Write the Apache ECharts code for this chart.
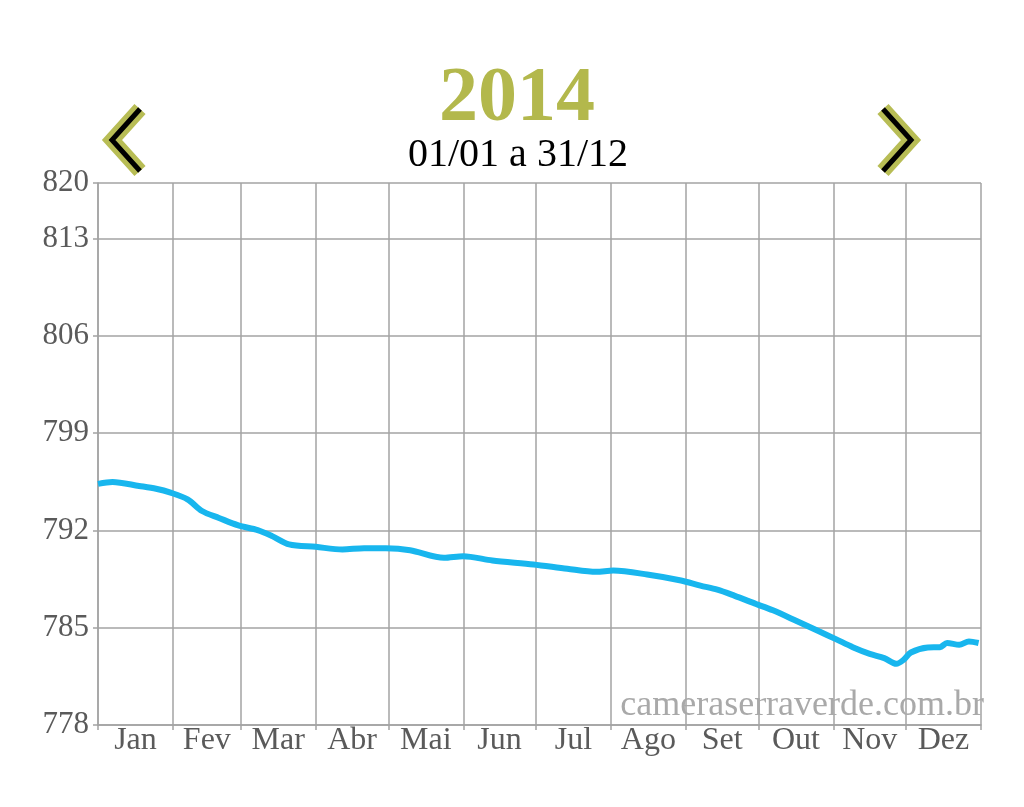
<!DOCTYPE html>
<html><head><meta charset="utf-8">
<script src="https://cdn.jsdelivr.net/npm/echarts@6/dist/echarts.min.js"></script>
<style>html,body{margin:0;padding:0;background:#fff}#c{width:1024px;height:807px}</style>
</head><body><div id="c"></div>
<script>
const months = ['Jan','Fev','Mar','Abr','Mai','Jun','Jul','Ago','Set','Out','Nov','Dez'];
const monthStarts = [0,31,59,90,120,151,181,212,243,273,304,334,365];
const yTicks = [778,785,792,799,806,813,817];
const days = [0,6,17,24,30,37,43,50,58,66,72,79,90,101,110,119,129,143,151,163,180,194,206,213,227,241,249,256,263,272,279,289,298,305,312,319,325,330,333,336,343,348,351,356,360,364];
const levels = [795.35,795.49,795.2,795.0,794.72,794.24,793.4,792.9,792.36,792.02,791.59,791.0,790.82,790.63,790.72,790.72,790.58,790.03,790.15,789.84,789.55,789.24,789.02,789.11,788.83,788.4,788.03,787.74,787.31,786.71,786.25,785.46,784.74,784.18,783.6,783.12,782.81,782.4,782.69,783.22,783.58,783.6,783.9,783.77,784.01,783.9];

const serif = "'Liberation Serif','Times New Roman',serif";
const gridColor = '#a3a3a3';
const mids = months.map((m,i)=>(monthStarts[i]+monthStarts[i+1])/2);

const chart = echarts.init(document.getElementById('c'));
chart.setOption({
  animation:false,
  backgroundColor:'#fff',
  title:[
    {text:'2014',left:512,textAlign:'center',top:56,textStyle:{fontFamily:serif,fontSize:78,fontWeight:'bold',color:'#b3b84c'}},
    {text:'01/01 a 31/12',left:513,textAlign:'center',top:130,textStyle:{fontFamily:serif,fontSize:40,fontWeight:'normal',color:'#000'}}
  ],
  grid:{left:98,right:43,top:183,bottom:82,containLabel:false},
  xAxis:{
    type:'value',min:0,max:365,
    axisLine:{show:true,lineStyle:{color:gridColor,width:1.5}},
    axisTick:{show:true,length:5,customValues:monthStarts,lineStyle:{color:gridColor,width:1.5}},
    splitLine:{show:true,lineStyle:{color:gridColor,width:1.5}},
    axisLabel:{customValues:mids,margin:0,fontFamily:serif,fontSize:32,color:'#5a5a5a',
      formatter:(v)=>{const i=mids.indexOf(v);return i>=0?months[i]:'';}}
  },
  yAxis:{
    type:'value',min:778,max:817,interval:7,
    axisLine:{show:true,lineStyle:{color:gridColor,width:1.5}},
    axisTick:{show:true,length:5,lineStyle:{color:gridColor,width:1.5}},
    splitLine:{show:true,lineStyle:{color:gridColor,width:1.5}},
    axisLabel:{margin:9,fontFamily:serif,fontSize:31,color:'#5a5a5a',showMaxLabel:true,
      formatter:(v)=> v===817 ? '820' : String(v)}
  },
  series:[{
    type:'line',showSymbol:false,smooth:0.3,
    data:days.map((d,i)=>[d,levels[i]]),
    lineStyle:{color:'#18b6ee',width:6},
    z:3
  }],
  graphic:[
    {type:'polyline',shape:{points:[[140,109],[112,140],[140,171]]},style:{stroke:'#b8bd55',lineWidth:15,fill:null,lineJoin:'miter'}},
    {type:'polyline',shape:{points:[[140,109],[112,140],[140,171]]},style:{stroke:'#000',lineWidth:5,fill:null,lineJoin:'miter'}},
    {type:'polyline',shape:{points:[[883,109],[911,140],[883,171]]},style:{stroke:'#b8bd55',lineWidth:15,fill:null,lineJoin:'miter'}},
    {type:'polyline',shape:{points:[[883,109],[911,140],[883,171]]},style:{stroke:'#000',lineWidth:5,fill:null,lineJoin:'miter'}},
    {type:'text',right:40,top:688,style:{text:'cameraserraverde.com.br',font:"36px 'Liberation Serif','Times New Roman',serif",fill:'#a9a9a9'},z:10}
  ]
});
</script></body></html>
